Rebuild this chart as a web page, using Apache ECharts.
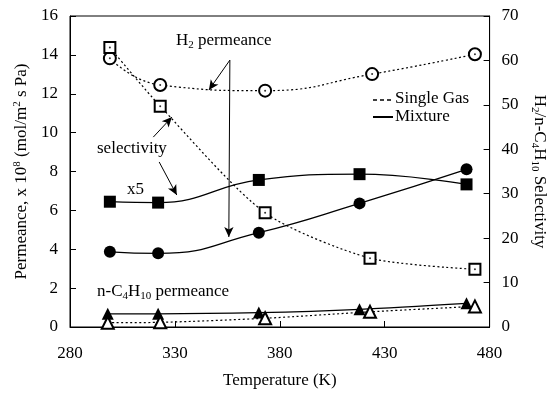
<!DOCTYPE html>
<html>
<head>
<meta charset="utf-8">
<script src="https://cdn.jsdelivr.net/npm/echarts@6/dist/echarts.min.js"></script>
<style>
html,body{margin:0;padding:0;background:#fff;}
#chart{width:556px;height:394px;}
</style>
</head>
<body>
<div id="chart"></div>
<script>
// ---- data ----
const h2SingleT   = [299, 323, 373, 424, 473];
const h2SingleP   = [13.82, 12.45, 12.16, 13.01, 14.03];
const selSingleT  = [299, 323, 373, 423, 473];
const selSingleV  = [62.9, 49.7, 25.7, 15.5, 13.0];
const h2MixT      = [299, 322, 370, 418, 469];
const h2MixP      = [3.87, 3.79, 4.85, 6.36, 8.11];
const selMixT     = [299, 322, 370, 418, 469];
const selMixV     = [28.2, 28.0, 33.1, 34.4, 32.1];
const c4MixT      = [298, 322, 370, 418, 469];
const c4MixP      = [0.68, 0.68, 0.74, 0.91, 1.22];
const c4SingleT   = [298, 323, 373, 423, 473];
const c4SingleP   = [0.22, 0.24, 0.45, 0.78, 1.06];
// annotation arrows in data coordinates [x, left-axis value]
const arrows = [
  [[356.2, 13.73], [346.2, 12.19]],
  [[356.2, 13.73], [355.7, 4.63]],
  [[319.7, 9.77], [328.6, 10.80]],
  [[322.5, 8.49], [330.9, 6.79]]
];
const xMin = 280, xMax = 480, xStep = 50;
const yMin = 0, yMax = 16, yStep = 2;
const y2Min = 0, y2Max = 70, y2Step = 10;

const FONT = 'Liberation Serif';
const pairs = (xs, ys) => xs.map((x, i) => [x, ys[i]]);
const rich = {
  sub: {fontSize: 11, fontFamily: FONT, color: '#000', padding: [9, 0, 0, 0], verticalAlign: 'bottom'},
  sup: {fontSize: 11, fontFamily: FONT, color: '#000', padding: [0, 0, 9, 0], verticalAlign: 'top'},
  b: {fontSize: 17, fontFamily: FONT, color: '#000'}
};

const chart = echarts.init(document.getElementById('chart'), null, {renderer: 'canvas'});
const dotted = {color: '#000', width: 1.2, type: [2, 2.5]};
const solid = {color: '#000', width: 1.3, type: 'solid'};

const option = {
  backgroundColor: '#fff',
  animation: false,
  grid: {left: 70, right: 58, top: 16, bottom: 67, show: true, borderColor: '#000', borderWidth: 1},
  xAxis: {
    type: 'value', min: xMin, max: xMax, interval: xStep,
    name: 'Temperature (K)', nameLocation: 'middle', nameGap: 45,
    nameTextStyle: {fontSize: 17, fontFamily: FONT, color: '#000'},
    axisLine: {lineStyle: {color: '#000', width: 1}},
    axisTick: {inside: true, length: 6, lineStyle: {color: '#000'}},
    axisLabel: {fontSize: 17, fontFamily: FONT, color: '#000', margin: 18},
    splitLine: {show: false}
  },
  yAxis: [{
    type: 'value', min: yMin, max: yMax, interval: yStep,
    name: 'Permeance, x 10{sup|8} (mol/m{sup|2} s Pa)', nameLocation: 'middle', nameGap: 36, nameRotate: 90,
    nameTextStyle: {fontSize: 17, fontFamily: FONT, color: '#000', rich: rich},
    axisLine: {show: true, lineStyle: {color: '#000', width: 1}},
    axisTick: {show: true, inside: true, length: 6, lineStyle: {color: '#000'}},
    axisLabel: {fontSize: 17, fontFamily: FONT, color: '#000', margin: 12},
    splitLine: {show: false}
  }, {
    type: 'value', min: y2Min, max: y2Max, interval: y2Step, position: 'right',
    name: '{b|H}{sub|2}{b|/n-C}{sub|4}{b|H}{sub|10}{b| Selectivity}', nameLocation: 'middle', nameGap: 33, nameRotate: -90,
    nameTextStyle: {fontSize: 17, fontFamily: FONT, color: '#000', rich: rich},
    axisLine: {show: true, lineStyle: {color: '#000', width: 1}},
    axisTick: {show: true, inside: true, length: 6, lineStyle: {color: '#000'}},
    axisLabel: {fontSize: 17, fontFamily: FONT, color: '#000', margin: 12},
    splitLine: {show: false}
  }],
  series: [
    {type: 'line', data: pairs(h2SingleT, h2SingleP), smooth: 0.5, symbol: 'emptyCircle', symbolSize: 12,
     itemStyle: {color: '#000', borderWidth: 1}, lineStyle: dotted, z: 3,
     markLine: {silent: true, symbol: ['none', 'arrow'], symbolSize: [7, 10], label: {show: false},
       lineStyle: {color: '#000', width: 1, type: 'solid'},
       data: arrows.map(a => [{coord: a[0]}, {coord: a[1]}])}},
    {type: 'line', yAxisIndex: 1, data: pairs(selSingleT, selSingleV), smooth: 0.25, symbol: 'emptyRect', symbolSize: 11,
     itemStyle: {color: '#000', borderWidth: 1}, lineStyle: dotted, z: 3},
    {type: 'line', data: pairs(h2MixT, h2MixP), smooth: 0.5, symbol: 'circle', symbolSize: 12,
     itemStyle: {color: '#000'}, lineStyle: solid, z: 3},
    {type: 'line', yAxisIndex: 1, data: pairs(selMixT, selMixV), smooth: 0.45, symbol: 'rect', symbolSize: 12,
     itemStyle: {color: '#000'}, lineStyle: solid, z: 3},
    {type: 'line', data: pairs(c4MixT, c4MixP), smooth: 0.3, symbol: 'triangle', symbolSize: 12,
     itemStyle: {color: '#000'}, lineStyle: solid, z: 3},
    {type: 'line', data: pairs(c4SingleT, c4SingleP), smooth: 0.3, symbol: 'emptyTriangle', symbolSize: 12,
     itemStyle: {color: '#000', borderWidth: 1}, lineStyle: dotted, z: 3},
    {type: 'scatter', data: pairs(h2SingleT, h2SingleP), symbol: 'circle', symbolSize: 2, itemStyle: {color: '#000'}, z: 5, silent: true},
    {type: 'scatter', yAxisIndex: 1, data: pairs(selSingleT, selSingleV), symbol: 'circle', symbolSize: 2, itemStyle: {color: '#000'}, z: 5, silent: true}
  ],
  graphic: [
    {type: 'text', left: 176, top: 32, z: 10,
     style: {text: '{b|H}{sub|2}{b| permeance}', rich: rich, fill: '#000'}},
    {type: 'text', left: 97, top: 140, z: 10,
     style: {text: 'selectivity', font: '17px "Liberation Serif"', fill: '#000'}},
    {type: 'text', left: 127, top: 181, z: 10,
     style: {text: 'x5', font: '17px "Liberation Serif"', fill: '#000'}},
    {type: 'text', left: 97, top: 283, z: 10,
     style: {text: '{b|n-C}{sub|4}{b|H}{sub|10}{b| permeance}', rich: rich, fill: '#000'}},
    {type: 'line', z: 10, shape: {x1: 373, y1: 100, x2: 392, y2: 100},
     style: {stroke: '#000', lineWidth: 1.5, lineDash: [4, 3]}},
    {type: 'text', left: 395, top: 90, z: 10,
     style: {text: 'Single Gas', font: '17px "Liberation Serif"', fill: '#000'}},
    {type: 'line', z: 10, shape: {x1: 373, y1: 117, x2: 393, y2: 117},
     style: {stroke: '#000', lineWidth: 2}},
    {type: 'text', left: 395, top: 108, z: 10,
     style: {text: 'Mixture', font: '17px "Liberation Serif"', fill: '#000'}}
  ]
};
chart.setOption(option);
</script>
</body>
</html>
